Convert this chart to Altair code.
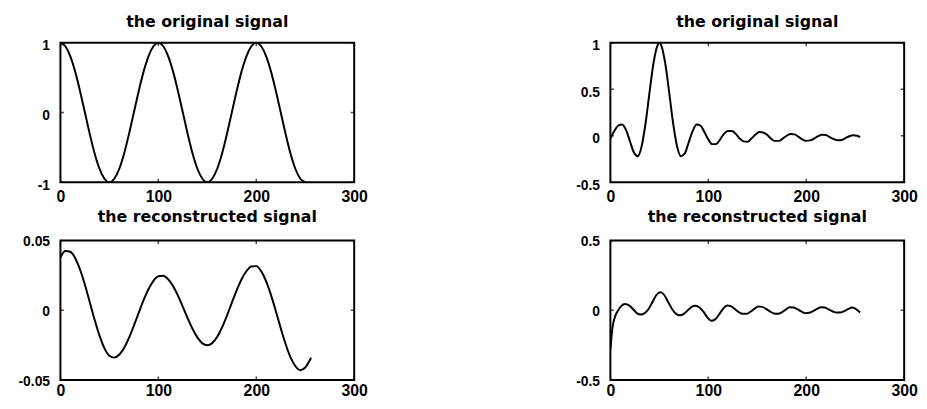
import altair as alt
import pandas as pd

# ---- data ----
# top-left: the original signal (cosine-like)
tl_x = list(range(0, 251, 5))
tl_y = [1.0, 0.95, 0.81, 0.59, 0.31, 0.0, -0.31, -0.59, -0.81, -0.95,
        -1.0, -0.95, -0.81, -0.59, -0.31, 0.0, 0.31, 0.59, 0.81, 0.95,
        1.0, 0.95, 0.81, 0.59, 0.31, 0.0, -0.31, -0.59, -0.81, -0.95,
        -1.0, -0.95, -0.81, -0.59, -0.31, 0.0, 0.31, 0.59, 0.81, 0.95,
        1.0, 0.95, 0.81, 0.59, 0.31, 0.0, -0.31, -0.59, -0.81, -0.95,
        -1.0]

# bottom-left: the reconstructed signal
bl_x = [0, 5, 10, 15, 20, 25, 30, 35, 40, 45, 50, 55, 60, 65, 70, 75, 80, 85,
        90, 95, 100, 105, 110, 115, 120, 125, 130, 135, 140, 145, 150, 155,
        160, 165, 170, 175, 180, 185, 190, 195, 200, 205, 210, 215, 220, 225,
        230, 235, 240, 245, 250, 256]
bl_y = [0.038, 0.0425, 0.042, 0.0376, 0.0293, 0.0184, 0.0058, -0.0069,
        -0.0183, -0.0273, -0.0326, -0.0339, -0.0318, -0.027, -0.0198, -0.011,
        -0.0017, 0.0075, 0.0153, 0.0212, 0.0245, 0.0248, 0.0223, 0.0174,
        0.0105, 0.0025, -0.0058, -0.0134, -0.0196, -0.0237, -0.025, -0.0235,
        -0.0191, -0.0123, -0.0039, 0.0054, 0.0144, 0.0223, 0.0282, 0.0315,
        0.0317, 0.0281, 0.021, 0.0111, -0.0006, -0.0128, -0.0243, -0.0337,
        -0.0401, -0.0429, -0.041, -0.034]

# top-right: the original signal (sinc-like pulse)
tr_x = [0, 4, 8, 12, 16, 20, 24, 28, 32, 36, 40, 44, 48, 50, 52, 56, 60, 64,
        68, 72, 76, 80, 84, 88, 92, 96, 100, 104, 108, 112, 116, 120, 124,
        128, 132, 136, 140, 144, 148, 152, 156, 160, 164, 168, 172, 176, 180,
        184, 188, 192, 196, 200, 204, 208, 212, 216, 220, 224, 228, 232, 236,
        240, 244, 248, 252, 255]
tr_y = [-0.03, 0.05, 0.11, 0.12, 0.06, -0.06, -0.18, -0.22, -0.11, 0.14,
        0.47, 0.78, 0.97, 1.0, 0.97, 0.78, 0.47, 0.14, -0.11, -0.22, -0.19,
        -0.07, 0.05, 0.12, 0.11, 0.04, -0.04, -0.09, -0.09, -0.04, 0.02, 0.05,
        0.05, 0.02, -0.03, -0.06, -0.065, -0.03, 0.01, 0.04, 0.035, 0.01,
        -0.03, -0.055, -0.055, -0.03, 0.0, 0.02, 0.015, -0.01, -0.04, -0.055,
        -0.05, -0.03, -0.005, 0.01, 0.008, -0.015, -0.035, -0.048, -0.045,
        -0.025, -0.005, 0.005, 0.0, -0.015]

# bottom-right: the reconstructed signal
br_x = [0, 1, 2, 3, 5, 8, 11, 15, 19, 23, 27, 31, 35, 39, 43, 47, 51, 55, 59,
        63, 67, 71, 75, 79, 83, 87, 91, 95, 99, 103, 107, 111, 115, 119, 123,
        127, 131, 135, 139, 143, 147, 151, 155, 159, 163, 167, 171, 175, 179,
        183, 187, 191, 195, 199, 203, 207, 211, 215, 219, 223, 227, 231, 235,
        239, 243, 247, 251, 255]
br_y = [-0.28, -0.2, -0.13, -0.09, -0.04, 0.0, 0.03, 0.045, 0.035, 0.01,
        -0.02, -0.03, -0.02, 0.01, 0.06, 0.11, 0.13, 0.11, 0.06, 0.01,
        -0.025, -0.035, -0.025, 0.0, 0.025, 0.033, 0.02, -0.01, -0.05,
        -0.075, -0.065, -0.03, 0.01, 0.035, 0.03, 0.01, -0.012, -0.025,
        -0.025, -0.01, 0.01, 0.027, 0.025, 0.01, -0.008, -0.022, -0.025,
        -0.015, 0.005, 0.022, 0.02, 0.008, -0.008, -0.02, -0.018, -0.005,
        0.01, 0.022, 0.02, 0.006, -0.008, -0.016, -0.015, -0.005, 0.01, 0.02,
        0.008, -0.015]

x_ticks = [0, 100, 200, 300]
x_domain = [0, 300]

panels = [
    ("the original signal", tl_x, tl_y, [-1, 1], [-1, 0, 1], "top"),
    ("the original signal", tr_x, tr_y, [-0.5, 1], [-0.5, 0, 0.5, 1], "top"),
    ("the reconstructed signal", bl_x, bl_y, [-0.05, 0.05], [-0.05, 0, 0.05], "bottom"),
    ("the reconstructed signal", br_x, br_y, [-0.5, 0.5], [-0.5, 0, 0.5], "bottom"),
]

W, H = 297, 141


def panel(title, xs, ys, ydom, yticks, row):
    df = pd.DataFrame({"x": xs, "y": ys})
    xsc = alt.Scale(domain=x_domain, nice=False, zero=False)
    ysc = alt.Scale(domain=ydom, nice=False, zero=False)
    xax = alt.Axis(values=x_ticks, labelExpr="'' + datum.value",
                   labelPadding=6 if row == "top" else 3, labelFontSize=16,
                   labelFlush=False, labelOverlap=False, labelBound=False)
    yax = alt.Axis(values=yticks, labelExpr="'' + datum.value",
                   labelPadding=11, labelFontSize=14, labelFlush=False,
                   labelOverlap=False, labelOffset=3 if row == "top" else 1)
    line = alt.Chart(df).mark_line(color="black", strokeWidth=2,
                                   interpolate="monotone", clip=True).encode(
        x=alt.X("x:Q", scale=xsc, axis=xax, title=None),
        y=alt.Y("y:Q", scale=ysc, axis=yax, title=None),
    )
    # small inward ticks on all four sides (MATLAB style box)
    ytick_df = pd.DataFrame({"x": [x_domain[0]] * len(yticks) + [x_domain[1]] * len(yticks),
                             "y": yticks + yticks})
    xtick_df = pd.DataFrame({"x": x_ticks + x_ticks,
                             "y": [ydom[0]] * len(x_ticks) + [ydom[1]] * len(x_ticks)})
    yt = alt.Chart(ytick_df).mark_tick(orient="horizontal", size=7, thickness=1.5,
                                       color="black", clip=True).encode(
        x=alt.X("x:Q", scale=xsc), y=alt.Y("y:Q", scale=ysc))
    xt = alt.Chart(xtick_df).mark_tick(orient="vertical", size=7, thickness=1.5,
                                       color="black", clip=True).encode(
        x=alt.X("x:Q", scale=xsc), y=alt.Y("y:Q", scale=ysc))
    return alt.layer(line, yt, xt).properties(
        width=W, height=H,
        title=alt.TitleParams(title, fontSize=16, font="DejaVu Sans", fontWeight="bold",
                              baseline="alphabetic", offset=-4 if row == "top" else -3,
                              anchor="middle", color="black"),
    )


p = [panel(*a) for a in panels]
chart = alt.concat(*p, columns=2, spacing={"row": 59, "column": 259},
                   bounds="flush").properties(
    padding={"left": 9, "top": 3, "right": 0, "bottom": 0},
    background="white",
).configure_view(stroke="black", strokeWidth=2).configure_axis(
    domain=False, ticks=False, grid=False, labelColor="black",
    labelFont="Liberation Sans", labelFontWeight="bold",
)

chart.save("out.html", embed_options={"renderer": "svg", "actions": False})
